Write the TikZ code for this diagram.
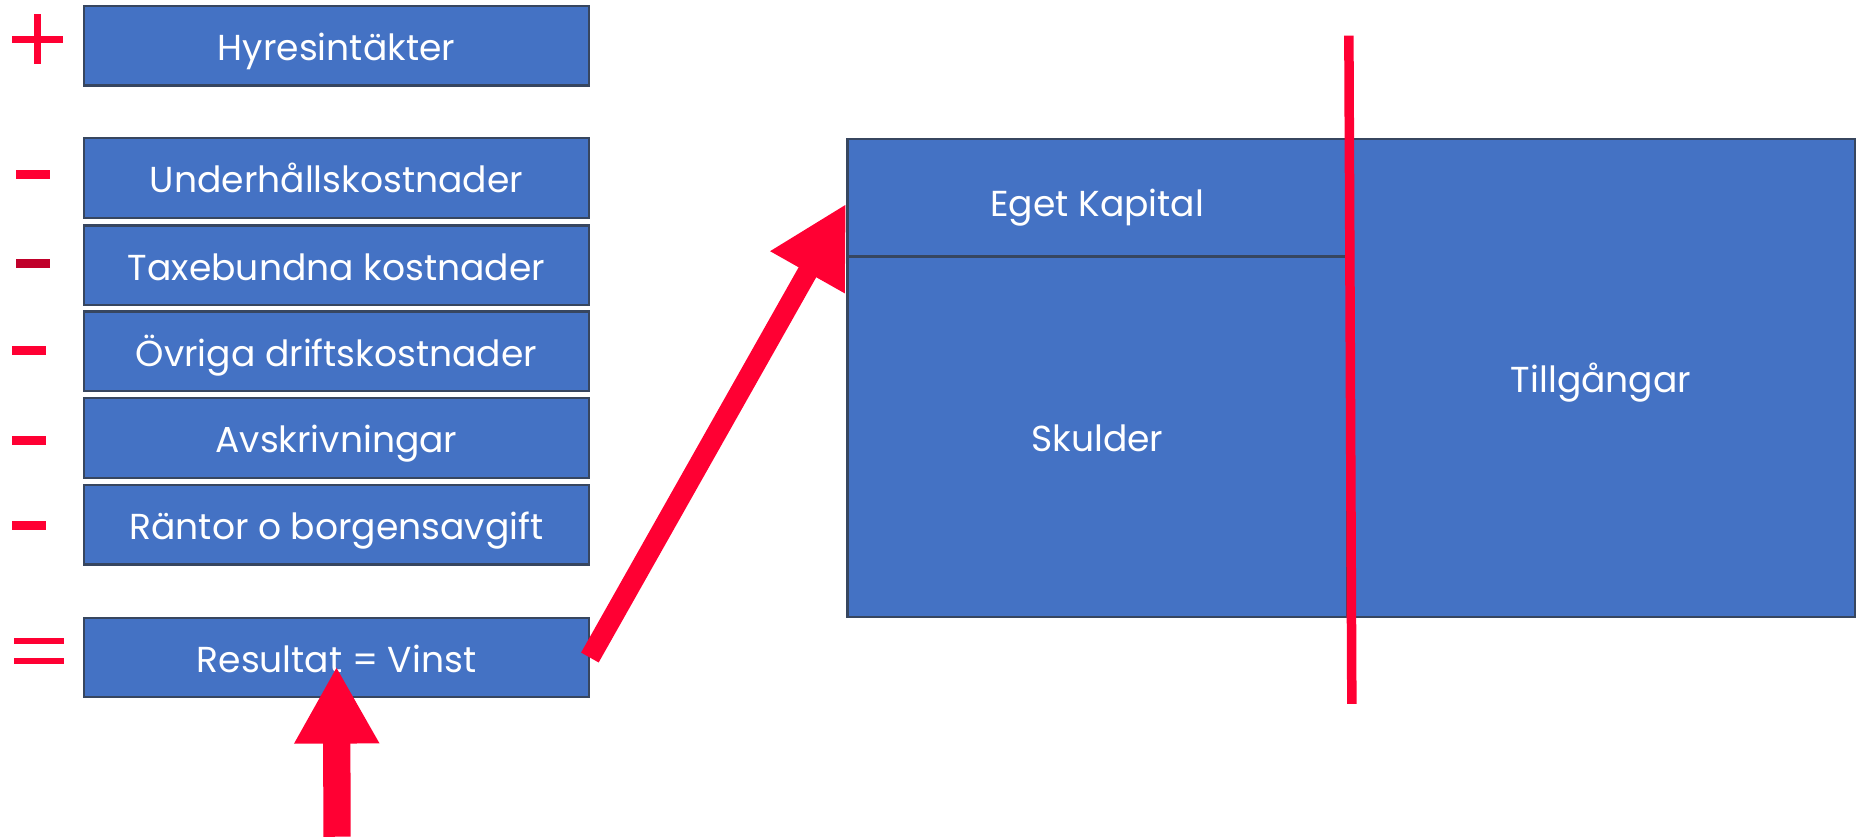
\documentclass[tikz,border=0pt]{standalone}
\usepackage{fontspec}
\setmainfont{Poppins}
\usetikzlibrary{arrows.meta,calc}
\definecolor{boxblue}{HTML}{4472C4}
\definecolor{boxline}{RGB}{55,70,95}
\definecolor{signred}{HTML}{FF0033}
\definecolor{darkred}{HTML}{C0002A}
\begin{document}
\begin{tikzpicture}[x=0.5pt,y=-0.5pt,
  bx/.style={draw=boxline, line width=1pt, fill=boxblue, text=white, inner sep=0pt,
    font=\fontsize{15.2}{18}\selectfont, text height=14.6pt, text depth=2pt},
  lbox/.style={bx, minimum width=212.5pt, minimum height=33.5pt},
  sign/.style={fill=signred, draw=none},
  bigarrow/.style={draw=signred, line cap=butt}
]
\useasboundingbox (0,0) rectangle (1568,705);

% left column
\node[lbox] (hyr) at (283.5,38.5) {Hyresintäkter};
\node[lbox] (und) at (283.5,150) {Underhållskostnader};
\node[lbox] (tax) at (283.5,223.5) {Taxebundna kostnader};
\node[lbox] (ovr) at (283.5,296) {Övriga driftskostnader};
\node[lbox] (avs) at (283.5,369) {Avskrivningar};
\node[lbox] (ran) at (283.5,442) {Räntor o borgensavgift};
\node[lbox] (res) at (283.5,554) {Resultat = Vinst};

% signs
\fill[sign] (10,30.1) rectangle (52.7,36.3);
\fill[sign] (28.3,11.7) rectangle (34.7,53.9);
\fill[sign] (13.3,143.6) rectangle (42,151.1);
\fill[darkred] (13.3,218.6) rectangle (42,226);
\fill[sign] (10,291.5) rectangle (38.7,298.9);
\fill[sign] (10,367.2) rectangle (38.7,374.6);
\fill[sign] (10,439) rectangle (38.7,446.4);
\fill[sign] (11.7,537.5) rectangle (54.3,543);
\fill[sign] (11.7,554) rectangle (54.3,559.5);

% balance sheet
\node[bx, minimum width=210.5pt, minimum height=49.5pt, text height=17.6pt] (ek) at (924.5,166.5) {Eget Kapital};
\node[bx, minimum width=210.5pt, minimum height=152pt] (sk) at (924.5,368) {Skulder};
\node[bx, minimum width=214pt, minimum height=201.5pt] (tg) at (1349,318.5) {Tillgångar};

% arrows
\coordinate (vbot) at (284,705);
\draw[bigarrow, line width=11.5pt, -{Triangle[length=32.5pt,width=33.5pt]}]
  (vbot) -- ($(res.center)+(0,7.5)$);
\draw[bigarrow, line width=8.5pt, -{Triangle[length=33.25pt,width=33.5pt]}]
  (res.east) -- ($(ek.west)+(0,5)$);

% red divider line
\coordinate (ltop) at (1136.5,30);
\coordinate (lbot) at (1139,593);
\draw[signred, line width=4pt] (ltop) -- (lbot);
\end{tikzpicture}
\end{document}
